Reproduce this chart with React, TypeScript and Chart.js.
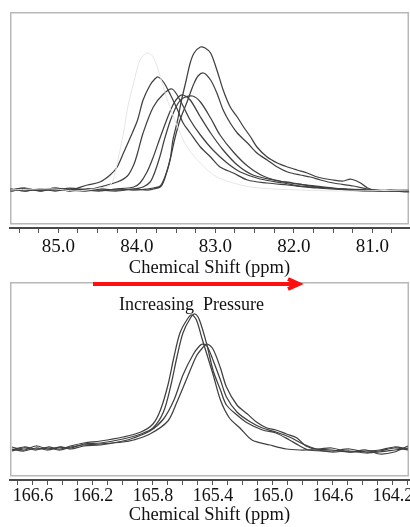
import React, { useEffect, useRef } from 'react';
import { Chart, registerables } from 'chart.js';

Chart.register(...registerables);

const SERIF = '"Liberation Serif", "Times New Roman", serif';
Chart.defaults.font.family = SERIF;

// ---------- data ----------
const X_TITLE = 'Chemical Shift (ppm)';
const ANNOTATION = 'Increasing  Pressure';

const TOP_TICK_LABELS = ['85.0', '84.0', '83.0', '82.0', '81.0'];
const TOP_RANGE = [80.533, 85.615];
const TOP_STEP = 0.25;
const TOP_Y_RANGE = [-38, 178];

const BOT_TICK_LABELS = ['166.6', '166.2', '165.8', '165.4', '165.0', '164.6', '164.2'];
const BOT_RANGE = [164.093, 166.753];
const BOT_STEP = 0.1;
const BOT_Y_RANGE = [-30, 168];

// top panel spectra: [ppm, intensity]
const TOP_FAINT: number[][] = [
  [85.61, 0], [85.3, 1], [85.04, 1], [84.8, -1], [84.63, 0], [84.47, 2], [84.34, 5], [84.3, 10],
  [84.24, 30], [84.17, 57], [84.11, 85], [84.04, 107], [83.96, 130], [83.87, 137], [83.8, 134],
  [83.74, 123], [83.61, 90], [83.48, 63], [83.36, 43], [83.19, 27], [82.98, 13], [82.55, 3],
  [81.92, 0], [81.28, -1], [80.53, 0],
];
const TOP_C1: number[][] = [
  [85.61, -1], [85.42, 1], [85.23, 0], [85.04, 2], [84.85, 0], [84.63, 5], [84.47, 8], [84.34, 15],
  [84.25, 23], [84.17, 37], [84.08, 53], [83.99, 70], [83.92, 90], [83.83, 105], [83.77, 111],
  [83.73, 113], [83.66, 108], [83.57, 95], [83.48, 80], [83.41, 67], [83.32, 57], [83.19, 43],
  [83.06, 33], [82.94, 23], [82.77, 17], [82.59, 10], [82.34, 7], [82.08, 5], [81.7, 2],
  [81.28, 0], [80.94, -1], [80.53, 0],
];
const TOP_C2: number[][] = [
  [85.61, 1], [85.42, -1], [85.23, 1], [85.04, -1], [84.85, 1], [84.63, 0], [84.47, 3], [84.25, 8],
  [84.12, 14], [84.04, 25], [83.99, 37], [83.92, 57], [83.79, 83], [83.66, 96], [83.55, 101],
  [83.45, 90], [83.32, 70], [83.19, 55], [83.03, 40], [82.85, 27], [82.68, 18], [82.43, 11],
  [82.13, 7], [81.92, 4], [81.57, 2], [81.15, -1], [80.77, 0], [80.53, -1],
];
const TOP_C3: number[][] = [
  [85.61, 0], [85.42, 1], [85.23, -1], [85.04, 1], [84.85, -1], [84.63, 1], [84.47, 0], [84.25, 1],
  [84.04, 3], [83.96, 7], [83.87, 18], [83.79, 33], [83.7, 53], [83.61, 72], [83.54, 85],
  [83.47, 93], [83.41, 95], [83.32, 90], [83.19, 73], [83.06, 57], [82.9, 40], [82.72, 25],
  [82.52, 15], [82.26, 10], [82.01, 7], [81.7, 3], [81.32, 1], [80.94, 0], [80.53, -2],
];
const TOP_C4: number[][] = [
  [85.61, -1], [85.42, 1], [85.23, 0], [85.04, 2], [84.85, 0], [84.63, -1], [84.47, 1], [84.25, 0],
  [84.04, 1], [83.92, 3], [83.83, 8], [83.77, 18], [83.7, 35], [83.65, 50], [83.57, 70],
  [83.48, 86], [83.41, 92], [83.29, 94], [83.19, 88], [83.06, 72], [82.94, 55], [82.77, 38],
  [82.59, 24], [82.39, 14], [82.13, 8], [81.83, 5], [81.5, 2], [81.15, 0], [80.77, -1], [80.53, 0],
];
const TOP_C5: number[][] = [
  [85.61, 1], [85.42, -1], [85.23, 1], [85.04, 0], [84.85, 2], [84.63, 0], [84.47, -1], [84.25, 1],
  [84.04, 0], [83.87, 1], [83.79, 2], [83.7, 4], [83.62, 18], [83.57, 33], [83.54, 50],
  [83.48, 70], [83.43, 90], [83.37, 110], [83.32, 127], [83.27, 137], [83.19, 143], [83.13, 142],
  [83.06, 137], [82.98, 120], [82.9, 100], [82.81, 83], [82.72, 73], [82.64, 63], [82.55, 53],
  [82.47, 43], [82.34, 33], [82.21, 27], [82.08, 23], [81.96, 20], [81.83, 17], [81.7, 13],
  [81.5, 10], [81.37, 9], [81.28, 11], [81.2, 9], [81.15, 7], [81.06, 2], [80.94, -1],
  [80.77, 0], [80.53, -1],
];
const TOP_C6: number[][] = [
  [85.61, 0], [85.42, 2], [85.23, -1], [85.04, 1], [84.85, -1], [84.63, 1], [84.47, 0], [84.25, -1],
  [84.04, 1], [83.87, 0], [83.79, 1], [83.7, 3], [83.66, 8], [83.61, 20], [83.57, 32], [83.52, 50],
  [83.45, 70], [83.36, 88], [83.28, 105], [83.22, 114], [83.15, 117], [83.06, 110], [82.98, 97],
  [82.9, 80], [82.81, 67], [82.72, 57], [82.59, 47], [82.47, 37], [82.34, 30], [82.21, 23],
  [82.08, 18], [81.92, 15], [81.79, 13], [81.66, 10], [81.5, 7], [81.24, 4], [81.06, 1],
  [80.77, -1], [80.53, 0],
];

// bottom panel spectra: [ppm, intensity]
const BOT_A: number[][] = [
  [166.74, -1], [166.66, 2], [166.58, 0], [166.5, 3], [166.42, 1], [166.35, 4], [166.26, 7],
  [166.15, 9], [166.0, 13], [165.88, 18], [165.8, 26], [165.75, 40], [165.7, 65], [165.66, 93],
  [165.62, 117], [165.57, 131], [165.54, 135], [165.51, 130], [165.47, 110], [165.4, 76],
  [165.35, 50], [165.29, 32], [165.22, 22], [165.14, 10], [165.02, 5], [164.91, 1], [164.82, 0],
  [164.71, 0], [164.61, -2], [164.49, -1], [164.38, -3], [164.29, -2], [164.19, 0], [164.1, 2],
];
const BOT_B: number[][] = [
  [166.74, 1], [166.66, -1], [166.58, 2], [166.5, 0], [166.42, 3], [166.35, 2], [166.26, 6],
  [166.15, 7], [166.0, 11], [165.88, 16], [165.8, 22], [165.73, 38], [165.68, 65], [165.64, 93],
  [165.6, 117], [165.55, 132], [165.52, 136], [165.49, 130], [165.44, 105], [165.4, 80],
  [165.35, 60], [165.31, 45], [165.24, 35], [165.17, 27], [165.07, 20], [164.98, 17], [164.89, 10],
  [164.82, 4], [164.76, 0], [164.61, -1], [164.49, 1], [164.38, -2], [164.29, -1], [164.19, 2],
  [164.1, 0],
];
const BOT_C: number[][] = [
  [166.74, 3], [166.66, 0], [166.58, 4], [166.5, 1], [166.42, 3], [166.35, 1], [166.26, 4],
  [166.15, 5], [166.0, 9], [165.93, 12], [165.82, 19], [165.73, 31], [165.66, 50], [165.6, 75],
  [165.53, 96], [165.49, 104], [165.47, 106], [165.44, 104], [165.4, 90], [165.35, 70],
  [165.31, 53], [165.24, 38], [165.15, 28], [165.07, 22], [164.98, 18], [164.89, 13], [164.8, 6],
  [164.71, 1], [164.61, 0], [164.49, -2], [164.38, 0], [164.29, -4], [164.19, -2], [164.1, 4],
];
const BOT_D: number[][] = [
  [166.74, 0], [166.66, 3], [166.58, 1], [166.5, 2], [166.42, 0], [166.35, 3], [166.26, 5],
  [166.15, 6], [166.0, 8], [165.93, 10], [165.82, 16], [165.7, 29], [165.64, 48], [165.57, 73],
  [165.51, 94], [165.47, 102], [165.44, 106], [165.4, 101], [165.35, 82], [165.31, 63],
  [165.24, 45], [165.17, 36], [165.11, 28], [165.04, 22], [164.98, 20], [164.91, 16], [164.84, 12],
  [164.78, 4], [164.71, 1], [164.61, 2], [164.49, -2], [164.38, -1], [164.29, 0], [164.19, 3],
  [164.1, 1],
];

const TOP_SERIES = [TOP_C1, TOP_C2, TOP_C3, TOP_C4, TOP_C5, TOP_C6];
const BOT_SERIES = [BOT_A, BOT_B, BOT_C, BOT_D];

// ---------- helpers ----------
const LINE_COLOR = '#404040';

const boxPlugin = {
  id: 'plotBox',
  beforeDatasetsDraw(chart: any, _args: any, opts: any) {
    const { ctx, chartArea: a } = chart;
    ctx.save();
    ctx.strokeStyle = opts.color || '#b8b8b8';
    ctx.lineWidth = 1.5;
    ctx.strokeRect(a.left + 0.75, a.top + 0.75, a.right - a.left - 1.5, a.bottom - (opts.gap || 5) - a.top);
    ctx.restore();
  },
};

const arrowPlugin = {
  id: 'pressureArrow',
  afterDraw(chart: any, _args: any, opts: any) {
    if (!opts || !opts.show) return;
    const { ctx } = chart;
    ctx.save();
    ctx.strokeStyle = '#ff1010';
    ctx.lineWidth = 4;
    ctx.lineCap = 'butt';
    ctx.beginPath();
    ctx.moveTo(93, 8);
    ctx.lineTo(298, 8);
    ctx.stroke();
    ctx.lineJoin = 'miter';
    ctx.beginPath();
    ctx.moveTo(288, 3);
    ctx.lineTo(299, 8);
    ctx.lineTo(288, 13);
    ctx.stroke();
    ctx.fillStyle = '#111';
    ctx.font = '18px ' + SERIF;
    ctx.textBaseline = 'alphabetic';
    ctx.textAlign = 'left';
    ctx.fillText(ANNOTATION, 119, 34);
    ctx.restore();
  },
};

function toPoints(arr: number[][]) {
  return arr.map(([x, y]) => ({ x, y }));
}

function makeConfig(o: {
  series: number[][][];
  faint?: number[][];
  range: number[];
  step: number;
  labels: string[];
  yRange: number[];
  tickSize: number;
  tickPad: number;
  scaleHeight: number;
  titlePad: number;
  padTop: number;
  arrow: boolean;
}): any {
  const datasets: any[] = [];
  if (o.faint) {
    datasets.push({
      data: toPoints(o.faint),
      borderColor: '#e6e6e6',
      borderWidth: 1,
      pointRadius: 0,
      tension: 0.3,
    });
  }
  o.series.forEach((s) => {
    datasets.push({
      data: toPoints(s),
      borderColor: LINE_COLOR,
      borderWidth: 1.25,
      pointRadius: 0,
      tension: 0.3,
    });
  });
  return {
    type: 'line',
    data: { datasets },
    plugins: [boxPlugin, arrowPlugin],
    options: {
      responsive: false,
      animation: false,
      events: [],
      font: { family: SERIF },
      layout: { padding: { left: 10, right: 1, top: o.padTop, bottom: 0 } },
      plugins: {
        legend: { display: false },
        tooltip: { enabled: false },
        plotBox: { color: '#b8b8b8', gap: 5 },
        pressureArrow: { show: o.arrow },
      },
      scales: {
        x: {
          type: 'linear',
          reverse: true,
          min: o.range[0],
          max: o.range[1],
          afterFit: (scale: any) => {
            scale.height = o.scaleHeight;
          },
          border: { display: true, color: '#4a4a4a', width: 2 },
          grid: {
            drawOnChartArea: false,
            drawTicks: true,
            tickLength: 5,
            color: '#555',
            lineWidth: 1,
          },
          ticks: {
            stepSize: o.step,
            includeBounds: false,
            autoSkip: false,
            maxRotation: 0,
            padding: o.tickPad,
            color: '#111',
            font: { family: SERIF, size: o.tickSize },
            callback: (v: any) => {
              const n = Number(v);
              const s = n.toFixed(1);
              return o.labels.includes(s) && Math.abs(n - parseFloat(s)) < 1e-6 ? s : '';
            },
          },
          title: {
            display: true,
            text: X_TITLE,
            color: '#111',
            font: { family: SERIF, size: 18.5 },
            padding: { top: 0, bottom: o.titlePad },
          },
        },
        y: {
          type: 'linear',
          display: false,
          min: o.yRange[0],
          max: o.yRange[1],
        },
      },
    },
  };
}

export default function App() {
  const topRef = useRef<HTMLCanvasElement>(null);
  const botRef = useRef<HTMLCanvasElement>(null);

  useEffect(() => {
    const top = new Chart(
      topRef.current as HTMLCanvasElement,
      makeConfig({
        series: TOP_SERIES,
        faint: TOP_FAINT,
        range: TOP_RANGE,
        step: TOP_STEP,
        labels: TOP_TICK_LABELS,
        yRange: TOP_Y_RANGE,
        tickSize: 19,
        tickPad: 3,
        scaleHeight: 54,
        titlePad: 3,
        padTop: 12,
        arrow: false,
      })
    );
    const bot = new Chart(
      botRef.current as HTMLCanvasElement,
      makeConfig({
        series: BOT_SERIES,
        range: BOT_RANGE,
        step: BOT_STEP,
        labels: BOT_TICK_LABELS,
        yRange: BOT_Y_RANGE,
        tickSize: 18,
        tickPad: 0,
        scaleHeight: 47,
        titlePad: 1,
        padTop: 6,
        arrow: true,
      })
    );
    return () => {
      top.destroy();
      bot.destroy();
    };
  }, []);

  return (
    <div style={{ position: 'fixed', left: 0, top: 0, width: 410, height: 527, background: '#fff' }}>
      <canvas
        ref={topRef}
        width={410}
        height={282}
        style={{ position: 'absolute', left: 0, top: 0, width: 410, height: 282 }}
      />
      <canvas
        ref={botRef}
        width={410}
        height={251}
        style={{ position: 'absolute', left: 0, top: 276, width: 410, height: 251 }}
      />
    </div>
  );
}
